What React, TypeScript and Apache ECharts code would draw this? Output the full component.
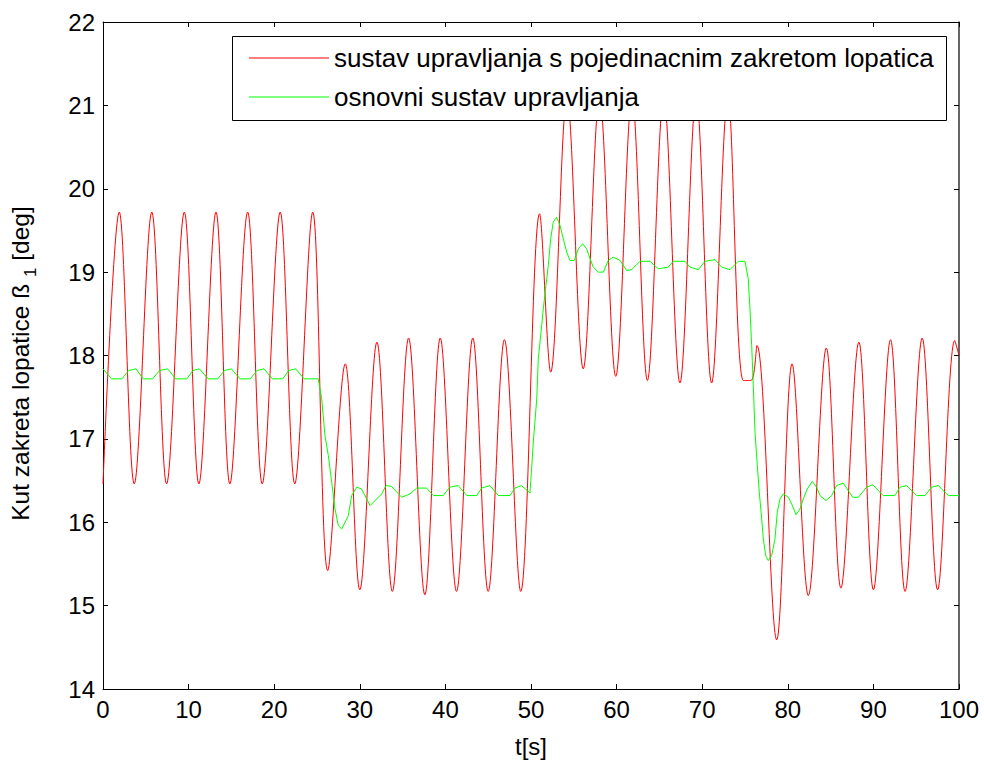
import React, { useEffect, useRef } from "react";
import * as echarts from "echarts";

// ---- axes ----
const X_MIN = 0;
const X_MAX = 100;
const X_STEP = 10;
const Y_MIN = 14;
const Y_MAX = 22;
const Y_STEP = 1;
const X_NAME = "t[s]";
const Y_NAME = "Kut zakreta lopatice ß {sub|1} [deg]";

// ---- series names ----
const RED_NAME = "sustav upravljanja s pojedinacnim zakretom lopatica";
const GREEN_NAME = "osnovni sustav upravljanja";

// ---- red series: times and values of its turning points ----
const redT = [
  0, 1.9, 3.65, 5.7, 7.43, 9.5, 11.2, 13.2, 14.82, 16.9, 18.6, 20.7, 22.4, 24.5,
  26.25, 28.3, 30.0, 32.0, 33.8, 35.7, 37.6, 39.4, 41.3, 43.2, 45.0, 46.9, 48.8,
  51.0, 52.3, 54.2, 56.1, 58.0, 59.9, 61.8, 63.6, 65.5, 67.4, 69.3, 71.1, 73.0, 74.8, 75.7, 76.4,
  78.7, 80.5, 82.4, 84.5, 86.2, 88.3, 90.0, 92.0, 93.7, 95.7, 97.5, 99.5, 100,
];
const redV = [
  16.46, 19.72, 16.46, 19.72, 16.46, 19.72, 16.46, 19.72, 16.46, 19.72, 16.46, 19.72, 16.46, 19.72,
  15.42, 17.9, 15.19, 18.16, 15.17, 18.21, 15.13, 18.21, 15.17, 18.21, 15.17, 18.19, 15.17,
  19.7, 17.8, 21.1, 17.84, 21.1, 17.75, 21.1, 17.7, 21.1, 17.67, 21.1, 17.67, 21.1, 17.7, 17.7, 18.12,
  14.59, 17.9, 15.12, 18.09, 15.21, 18.16, 15.19, 18.19, 15.17, 18.21, 15.19, 18.18, 18.0,
];

// ---- green series ----
const greenT = [
  0, 1.0, 2.2, 3.0, 3.85, 4.7, 5.8, 6.6, 7.55, 8.5, 9.8, 10.5, 11.25, 12.3, 13.4, 14.2, 15.0, 16.0, 17.2,
  18.0, 18.8, 19.8, 21.0, 21.7, 22.5, 23.5, 25.15,
  25.55, 25.93, 26.32, 26.72, 27.1, 27.49, 27.89, 28.66, 29.05, 29.64, 30.2, 30.8, 31.2, 32.56, 33.06,
  33.7, 34.9, 35.86, 36.65, 37.8, 38.6, 39.75, 40.5, 41.5, 42.5, 43.66, 44.24, 45.2, 46.2, 47.55, 48.13,
  48.9, 49.88, 50.27, 50.67,
  50.85, 51.25, 51.44, 51.75, 52.02, 52.3, 52.6, 53.0, 53.39, 53.77, 54.17, 54.56, 55.06, 55.53, 56.04,
  56.5, 56.9, 57.28, 57.86, 58.45, 59.03, 59.6, 60.4, 61.18, 61.76, 62.73, 63.9, 64.87, 66.04, 66.62,
  67.99, 68.57, 69.54, 70.33, 71.5, 72.28, 73.25, 74.22, 75.0, 75.38, 75.58, 75.78, 75.97, 76.17,
  76.44, 76.67, 76.95, 77.14, 77.42, 77.72, 78.12, 78.5, 78.77, 79.09, 79.47, 80.06, 80.45, 80.96,
  81.42, 81.81, 82.28, 82.86, 83.38, 83.76, 84.46, 85.13, 85.71, 86.48, 87.07, 87.58, 88.24, 89.2,
  89.92, 90.57, 91.16, 92.52, 93.1, 93.89, 95.06, 96.03, 96.8, 97.58, 98.75, 100,
];
const greenV = [
  17.84, 17.72, 17.72, 17.82, 17.84, 17.72, 17.72, 17.82, 17.84, 17.72, 17.72, 17.82, 17.84, 17.72, 17.72, 17.82, 17.84, 17.72, 17.72,
  17.82, 17.84, 17.72, 17.72, 17.82, 17.84, 17.72, 17.72,
  17.48, 17.04, 16.8, 16.48, 16.16, 15.96, 15.92, 16.08, 16.32, 16.42, 16.4, 16.28, 16.2, 16.34, 16.44,
  16.43, 16.3, 16.34, 16.41, 16.41, 16.32, 16.32, 16.42, 16.44, 16.32, 16.32, 16.41, 16.44, 16.32, 16.32, 16.41,
  16.44, 16.35, 16.96, 17.48,
  17.96, 18.36, 18.56, 18.84, 19.08, 19.4, 19.6, 19.66, 19.56, 19.4, 19.24, 19.14, 19.14, 19.28, 19.34,
  19.28, 19.16, 19.06, 19.0, 19.0, 19.14, 19.18, 19.14, 19.02, 19.03, 19.13, 19.13, 19.04, 19.06, 19.13,
  19.13, 19.06, 19.03, 19.13, 19.15, 19.06, 19.03, 19.13, 19.13, 18.92, 18.56, 18.12, 17.64, 17.08,
  16.68, 16.36, 16.04, 15.8, 15.6, 15.54, 15.6, 15.8, 16.12, 16.28, 16.34, 16.3, 16.22, 16.09,
  16.16, 16.28, 16.4, 16.49, 16.42, 16.32, 16.26, 16.32, 16.44, 16.47, 16.38, 16.3, 16.3, 16.42,
  16.45, 16.38, 16.32, 16.32, 16.42, 16.44, 16.32, 16.32, 16.42, 16.44, 16.32, 16.32,
];

const FONT = "'Liberation Sans', Arial, Helvetica, sans-serif";
const FS = 24;

export default function App() {
  const ref = useRef<HTMLDivElement>(null);
  useEffect(() => {
    if (!ref.current) return;
    const chart = echarts.init(ref.current, undefined, { renderer: "svg" });
    const red = redT.map((t, i) => [t, redV[i]]);
    const green = greenT.map((t, i) => [t, greenV[i]]);
    const axisLine = { show: true, onZero: false, lineStyle: { color: "#000", width: 1 } };
    const tick = { show: true, inside: true, length: 5, lineStyle: { color: "#000", width: 1 } };
    const label = { color: "#000", fontSize: FS, fontFamily: FONT, margin: 8 };
    chart.setOption({
      animation: false,
      backgroundColor: "#fff",
      grid: { left: 103, right: 25, top: 22, bottom: 72, containLabel: false },
      xAxis: [
        {
          type: "value", min: X_MIN, max: X_MAX, interval: X_STEP, position: "bottom",
          axisLine, axisTick: tick, axisLabel: label, splitLine: { show: false },
          name: X_NAME, nameLocation: "middle", nameGap: 45,
          nameTextStyle: { color: "#000", fontSize: FS, fontFamily: FONT },
        },
        {
          type: "value", min: X_MIN, max: X_MAX, interval: X_STEP, position: "top",
          axisLine, axisTick: tick, axisLabel: { show: false }, splitLine: { show: false },
        },
      ],
      yAxis: [
        {
          type: "value", min: Y_MIN, max: Y_MAX, interval: Y_STEP, position: "left",
          axisLine, axisTick: tick, axisLabel: label, splitLine: { show: false },
          name: Y_NAME, nameLocation: "middle", nameGap: 70,
          nameTextStyle: {
            color: "#000", fontSize: 24.5, fontFamily: FONT, padding: [0, 16, 0, 0],
            rich: { sub: { fontSize: 17, fontFamily: FONT, color: "#000", verticalAlign: "bottom", padding: [0, 0, -6, 0] } },
          },
        },
        {
          type: "value", min: Y_MIN, max: Y_MAX, interval: Y_STEP, position: "right",
          axisLine: { show: true, onZero: false, lineStyle: { color: "#333", width: 1.5 } },
          axisTick: tick, axisLabel: { show: false }, splitLine: { show: false },
        },
      ],
      legend: {
        show: true, orient: "vertical", left: 249, top: 45, padding: 0, itemGap: 13,
        icon: "rect", itemWidth: 80, itemHeight: 1.2, itemTextGap: 8,
        textStyle: { color: "#000", fontSize: 26, fontFamily: FONT, lineHeight: 26 },
        data: [RED_NAME, GREEN_NAME], z: 10,
      },
      graphic: [
        {
          type: "rect", z: 5, silent: true,
          shape: { x: 232.5, y: 36.5, width: 714, height: 84 },
          style: { fill: "#fff", stroke: "#000", lineWidth: 1 },
        },
      ],
      series: [
        {
          name: RED_NAME, type: "line", data: red, showSymbol: false, smooth: 0.35,
          lineStyle: { color: "#ff0000", width: 1 }, itemStyle: { color: "#ff0000" }, z: 2,
        },
        {
          name: GREEN_NAME, type: "line", data: green, showSymbol: false,
          lineStyle: { color: "#00ff00", width: 1 }, itemStyle: { color: "#00ff00" }, z: 3,
        },
      ],
    });
    return () => chart.dispose();
  }, []);
  return <div ref={ref} style={{ position: "absolute", left: 0, top: 0, width: 984, height: 763 }} />;
}
